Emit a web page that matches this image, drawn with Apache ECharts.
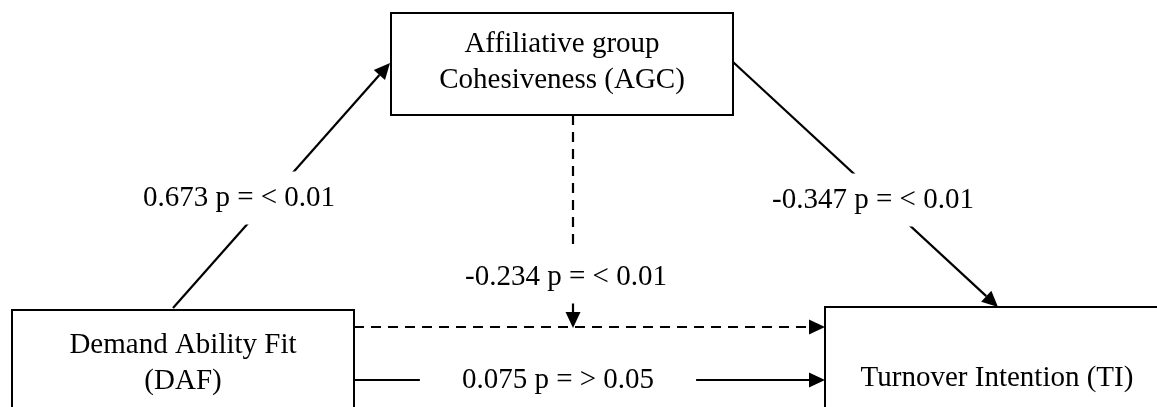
<!DOCTYPE html>
<html>
<head>
<meta charset="utf-8">
<script src="https://cdn.jsdelivr.net/npm/echarts@6/dist/echarts.min.js"></script>
<style>
html,body{margin:0;padding:0;background:#fff;}
#chart{width:1157px;height:407px;}
</style>
</head>
<body>
<div id="chart"></div>
<script>
// constructs of the model
var nodeNames = ['Affiliative group\nCohesiveness (AGC)', 'Demand Ability Fit\n(DAF)', 'Turnover Intention (TI)'];

// paths: from node, to node (-1 = onto the DAF -> TI path), coefficient, p value
var pathFrom = [1, 0, 0, 1, 1];
var pathTo   = [0, 2, -1, 2, 2];
var pathCoef = ['0.673', '-0.347', '-0.234', '', '0.075'];
var pathP    = ['< 0.01', '< 0.01', '< 0.01', '', '> 0.05'];

/* layout (drawing units of a 1157 x 407 frame) */
var boxes   = [[391, 13, 733, 115], [12, 310, 354, 440], [825, 307, 1175, 440]];
var textAt  = [[562, 62], [183, 363], [997, 378]];
var ends    = [[[173, 308], [390, 63]], [[733, 62], [998, 307]], [[573, 115], [573, 328]], [[354, 327], [825, 327]], [[354, 380], [825, 380]]];
var labelAt = [[239, 198], [873, 200], [566, 277], null, [558, 380]];
var dashed  = [false, false, true, true, false];

var font = '"Liberation Serif", "Times New Roman", serif';
var dom = document.getElementById('chart');
var myChart = echarts.init(dom);

function renderNode(params, api){
    var i = params.dataIndex, b = boxes[i];
    var p1 = api.coord([b[0], b[1]]), p2 = api.coord([b[2], b[3]]), t = api.coord(textAt[i]);
    return {
        type: 'group',
        children: [
            {type: 'rect', shape: {x: p1[0], y: p1[1], width: p2[0] - p1[0], height: p2[1] - p1[1]},
                style: {fill: '#fff', stroke: '#000', lineWidth: 2}},
            {type: 'text', x: t[0], y: t[1], z2: 10,
                style: {text: nodeNames[i], fill: '#000', fontFamily: font, fontSize: 29, lineHeight: 36,
                    align: 'center', verticalAlign: 'middle'}}
        ]
    };
}

function renderPath(params, api){
    var i = params.dataIndex;
    var a = api.coord(ends[i][0]), b = api.coord(ends[i][1]);
    var dx = b[0] - a[0], dy = b[1] - a[1], len = Math.sqrt(dx * dx + dy * dy);
    var ux = dx / len, uy = dy / len, hl = 16, hw = 7.5;
    var bx = b[0] - ux * hl, by = b[1] - uy * hl;
    var children = [
        {type: 'line', shape: {x1: a[0], y1: a[1], x2: bx, y2: by},
            style: {stroke: '#000', lineWidth: 2.2, lineDash: dashed[i] ? [10, 7] : null}},
        {type: 'polygon', shape: {points: [[b[0], b[1]], [bx - uy * hw, by + ux * hw], [bx + uy * hw, by - ux * hw]]},
            style: {fill: '#000'}}
    ];
    if(pathCoef[i]){
        var l = api.coord(labelAt[i]);
        children.push({type: 'text', x: l[0], y: l[1], z2: 20,
            style: {text: pathCoef[i] + ' p = ' + pathP[i], fill: '#000', fontFamily: font, fontSize: 29,
                align: 'center', verticalAlign: 'middle', backgroundColor: '#fff', padding: [12, 42]}});
    }
    return {type: 'group', children: children};
}

var option = {
    animation: false,
    backgroundColor: '#fff',
    grid: {left: 0, right: 0, top: 0, bottom: 0},
    xAxis: {type: 'value', min: 0, max: 1157, show: false},
    yAxis: {type: 'value', min: 0, max: 407, inverse: true, show: false},
    series: [
        {type: 'custom', name: 'paths', renderItem: renderPath, z: 1,
            data: pathFrom.map(function(f, i){return [f, pathTo[i]];})},
        {type: 'custom', name: 'nodes', renderItem: renderNode, z: 2,
            data: nodeNames.map(function(n, i){return [i, i];})}
    ]
};
myChart.setOption(option, true);
</script>
</body>
</html>
